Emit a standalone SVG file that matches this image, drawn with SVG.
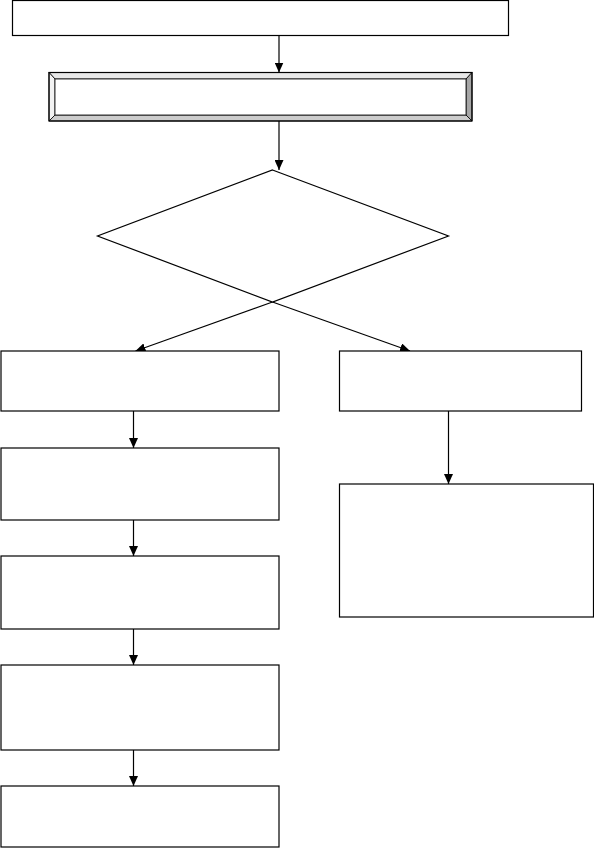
<svg xmlns="http://www.w3.org/2000/svg" width="594" height="848" viewBox="0 0 594 848">
<style>
.box{fill:#fff;stroke:#000;stroke-width:1.2}
.edge{fill:none;stroke:#000;stroke-width:1.2}
.bev{stroke:#000;stroke-width:0.8}
</style>
<defs>
<marker id="arr" viewBox="0 0 10 9" refX="10" refY="4.5" markerWidth="10" markerHeight="9" markerUnits="userSpaceOnUse" orient="auto">
<path d="M0,0 L10,4.5 L0,9 z" fill="#000"/>
</marker>
</defs>
<rect width="594" height="848" fill="#fff"/>
<g id="connectors">
<line class="edge" x1="279" y1="36" x2="279" y2="72.5" marker-end="url(#arr)"/>
<line class="edge" x1="279" y1="121" x2="279" y2="170" marker-end="url(#arr)"/>
<line class="edge" x1="272.5" y1="302" x2="135.5" y2="351" marker-end="url(#arr)"/>
<line class="edge" x1="272.5" y1="302" x2="410" y2="351" marker-end="url(#arr)"/>
<line class="edge" x1="133.5" y1="411" x2="133.5" y2="448" marker-end="url(#arr)"/>
<line class="edge" x1="133.5" y1="520" x2="133.5" y2="556" marker-end="url(#arr)"/>
<line class="edge" x1="133.5" y1="629" x2="133.5" y2="665" marker-end="url(#arr)"/>
<line class="edge" x1="133.5" y1="750" x2="133.5" y2="786" marker-end="url(#arr)"/>
<line class="edge" x1="448.5" y1="411" x2="448.5" y2="484" marker-end="url(#arr)"/>
</g>
<g id="n_top"><rect class="box" x="12.5" y="0.5" width="496" height="35"/></g>
<g id="n_bevel">
<rect x="49" y="72.5" width="423" height="48.5" fill="#fff"/>
<polygon class="bev" points="49,72.5 472,72.5 466,79 55,79" fill="#e8e8e8"/>
<polygon class="bev" points="49,72.5 55,79 55,115 49,121" fill="#f2f2f2"/>
<polygon class="bev" points="49,121 55,115 466,115 472,121" fill="#cccccc"/>
<polygon class="bev" points="472,72.5 472,121 466,115 466,79" fill="#a6a6a6"/>
<rect x="49" y="72.5" width="423" height="48.5" fill="none" stroke="#000" stroke-width="1.2"/>
<rect x="55" y="79" width="411" height="36" fill="#fff" stroke="#000" stroke-width="0.8"/>
</g>
<g id="n_decision"><polygon class="box" points="272.5,170 448.5,236 272.5,302 97.5,236"/></g>
<g id="n_l1"><rect class="box" x="1" y="351" width="278" height="60"/></g>
<g id="n_l2"><rect class="box" x="1" y="448" width="278" height="72"/></g>
<g id="n_l3"><rect class="box" x="1" y="556" width="278" height="73"/></g>
<g id="n_l4"><rect class="box" x="1" y="665" width="278" height="85"/></g>
<g id="n_l5"><rect class="box" x="1" y="786" width="278" height="61"/></g>
<g id="n_r1"><rect class="box" x="339.5" y="351" width="242" height="60"/></g>
<g id="n_r2"><rect class="box" x="339.5" y="484" width="254" height="133"/></g>
</svg>
